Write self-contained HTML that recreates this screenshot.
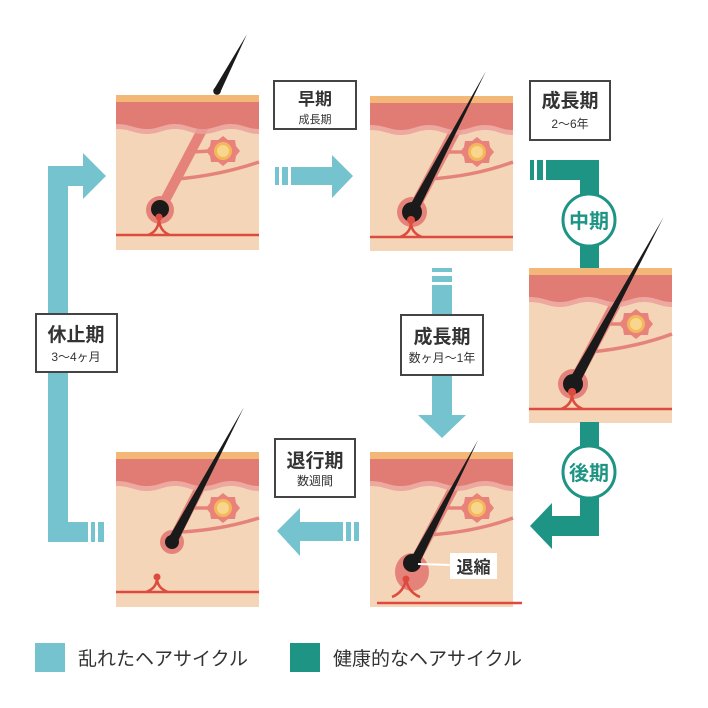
<!DOCTYPE html>
<html><head><meta charset="utf-8"><style>
html,body{margin:0;padding:0;background:#fff;width:708px;height:708px;overflow:hidden}
svg text{font-family:"Liberation Sans","Noto Sans CJK JP",sans-serif;font-weight:bold}
svg text.n{font-weight:normal}
</style></head><body>
<svg width="708" height="708" viewBox="0 0 708 708" xmlns="http://www.w3.org/2000/svg">
<defs>
<g id="bg">
  <rect x="0" y="0" width="143" height="155" fill="#F5D5B8"/>
</g>
<g id="band">
  <path d="M0 7 H143 V39 C131 39 127 34 115 34 C103 34 99 39 87 39 C75 39 71 34 59 34 C47 34 43 39 31 39 C19 39 15 34 0 34 Z" fill="#EBA09A" fill-opacity="0.85"/>
  <path d="M0 7 H143 V34 C131 34 127 29 115 29 C103 29 99 34 87 34 C75 34 71 29 59 29 C47 29 43 34 31 34 C19 34 15 29 0 29 Z" fill="#E07C73"/>
  <rect x="0" y="0" width="143" height="7" fill="#F3B777"/>
</g>
<g id="gland">
  <polygon points="107,41 112,45 119,45 120,51 124,56 120,61 119,67 112,67 107,71 102,67 95,67 94,61 90,56 94,51 95,45 102,45" fill="#E8827A"/>
  <circle cx="107" cy="56" r="9" fill="#F4B85A"/>
  <circle cx="107" cy="56" r="6" fill="#F8D68E"/>
</g>
</defs>

<!-- Panel 1 -->
<g transform="translate(116,95)">
  <use href="#bg"/>
  <path d="M62 84 Q105 80 143 67" stroke="#E5837A" stroke-width="3.5" fill="none"/>
  <path d="M76 57 L95 56" stroke="#E5837A" stroke-width="3.5"/>
  <line x1="44" y1="115" x2="94" y2="20" stroke="#E5837A" stroke-width="10"/>
  <circle cx="44" cy="115" r="14" fill="#E5837A"/>
  <circle cx="44" cy="114" r="9" fill="#1a1a1a"/>
  <line x1="0" y1="140" x2="143" y2="140" stroke="#DD4B3E" stroke-width="2.5"/>
  <path d="M32 140 Q43 136 43 123 Q43 136 54 140" stroke="#DD4B3E" stroke-width="2.5" fill="none"/>
  <circle cx="43" cy="122" r="3.5" fill="#DD4B3E"/>
  <use href="#band"/>
  <use href="#gland"/>
</g>
<g transform="translate(217,91) rotate(-62.2)"><polygon points="0,-3.5 64,0 0,3.5" fill="#1a1a1a"/><circle cx="0" cy="0" r="3.8" fill="#1a1a1a"/></g>

<!-- Panel 2 -->
<g transform="translate(370,96)">
  <use href="#bg"/>
  <path d="M60 83 Q105 80 143 66" stroke="#E5837A" stroke-width="3.5" fill="none"/>
  <path d="M74 56 L95 56" stroke="#E5837A" stroke-width="3.5"/>
  <line x1="42" y1="116" x2="93" y2="20" stroke="#E5837A" stroke-width="11"/>
  <circle cx="42" cy="116" r="15" fill="#E5837A"/>
  <line x1="0" y1="141" x2="143" y2="141" stroke="#DD4B3E" stroke-width="2.5"/>
  <use href="#band"/>
  <use href="#gland"/>
  <g transform="translate(42,116) rotate(-62.3)"><polygon points="0,-5 159,0 0,5" fill="#1a1a1a"/></g>
  <circle cx="42" cy="116" r="10" fill="#1a1a1a"/>
  <path d="M30 141 Q41 137 41 126 Q41 137 52 141" stroke="#DD4B3E" stroke-width="2.5" fill="none"/>
  <circle cx="41" cy="124" r="4" fill="#DD4B3E"/>
</g>

<!-- Panel 3 -->
<g transform="translate(529,268)">
  <use href="#bg"/>
  <path d="M61 84 Q105 80 143 66" stroke="#E5837A" stroke-width="3.5" fill="none"/>
  <path d="M76 56 L95 56" stroke="#E5837A" stroke-width="3.5"/>
  <line x1="44" y1="116" x2="95" y2="20" stroke="#E5837A" stroke-width="11"/>
  <circle cx="44" cy="116" r="15" fill="#E5837A"/>
  <line x1="0" y1="141" x2="143" y2="141" stroke="#DD4B3E" stroke-width="2.5"/>
  <use href="#band"/>
  <use href="#gland"/>
  <g transform="translate(44,116) rotate(-61.5)"><polygon points="0,-5.5 190,0 0,5.5" fill="#1a1a1a"/></g>
  <circle cx="44" cy="116" r="10" fill="#1a1a1a"/>
  <path d="M32 141 Q43 137 43 126 Q43 137 54 141" stroke="#DD4B3E" stroke-width="2.5" fill="none"/>
  <circle cx="43" cy="124" r="4" fill="#DD4B3E"/>
</g>

<!-- Panel 4 -->
<g transform="translate(370,452)">
  <use href="#bg"/>
  <path d="M58 83 Q105 80 143 66" stroke="#E5837A" stroke-width="3.5" fill="none"/>
  <path d="M74 56 L95 56" stroke="#E5837A" stroke-width="3.5"/>
  <line x1="44" y1="111" x2="92" y2="20" stroke="#E5837A" stroke-width="10"/>
  <ellipse cx="42" cy="120" rx="17" ry="19" fill="#E5837A"/>
  <use href="#band"/>
  <use href="#gland"/>
  <g transform="translate(44,111) rotate(-62.5)"><polygon points="0,-5 139,0 0,5" fill="#1a1a1a"/></g>
  <circle cx="42" cy="111" r="9" fill="#1a1a1a"/>
  <path d="M22 145 Q34 140 36 127 Q38 140 50 145" stroke="#DD4B3E" stroke-width="2.5" fill="none"/>
  <circle cx="36" cy="127" r="3.5" fill="#DD4B3E"/>
  <line x1="7" y1="151" x2="152" y2="151" stroke="#DD4B3E" stroke-width="2.5"/>
  <line x1="48" y1="112" x2="82" y2="113" stroke="#fff" stroke-width="2"/>
  <rect x="80" y="101" width="47" height="26" fill="#fff"/>
  <text x="103.5" y="121" font-size="17" fill="#333" text-anchor="middle">退縮</text>
</g>

<!-- Panel 5 -->
<g transform="translate(116,452)">
  <use href="#bg"/>
  <path d="M65 80 Q105 78 143 66" stroke="#E5837A" stroke-width="3.5" fill="none"/>
  <path d="M78 56 L95 56" stroke="#E5837A" stroke-width="3.5"/>
  <line x1="56" y1="90" x2="92" y2="20" stroke="#E5837A" stroke-width="10"/>
  <circle cx="56" cy="90" r="12" fill="#E5837A"/>
  <use href="#band"/>
  <use href="#gland"/>
  <g transform="translate(56,90) rotate(-61.9)"><polygon points="0,-5 153,0 0,5" fill="#1a1a1a"/></g>
  <circle cx="56" cy="90" r="7" fill="#1a1a1a"/>
  <line x1="0" y1="140" x2="143" y2="140" stroke="#DD4B3E" stroke-width="2.5"/>
  <path d="M30 140 Q41 136 41 126 Q41 136 52 140" stroke="#DD4B3E" stroke-width="2.5" fill="none"/>
  <circle cx="41" cy="125" r="3.5" fill="#DD4B3E"/>
</g>

<!-- Light teal (disturbed) arrows -->
<g fill="#75C3CE">
  <rect x="48" y="166" width="20" height="376"/>
  <rect x="48" y="166" width="36" height="20"/>
  <polygon points="83,153 106,176 83,199"/>
  <rect x="48" y="522" width="40" height="20"/>
  <rect x="91" y="522" width="4" height="20"/>
  <rect x="98" y="522" width="6" height="20"/>
  <rect x="275" y="167" width="4" height="18"/>
  <rect x="282" y="167" width="6" height="18"/>
  <rect x="291" y="167" width="42" height="18"/>
  <polygon points="332,155 353,176 332,198"/>
  <rect x="432" y="268" width="20" height="4"/>
  <rect x="432" y="276" width="20" height="6"/>
  <rect x="432" y="285" width="20" height="132"/>
  <polygon points="418,415 466,415 442,438"/>
  <polygon points="277,531 300,508 300,556"/>
  <rect x="299" y="522" width="44" height="19"/>
  <rect x="346" y="522" width="5" height="19"/>
  <rect x="354" y="522" width="5" height="19"/>
</g>

<!-- Dark teal (healthy) arrows -->
<g fill="#1E9484">
  <rect x="530" y="160" width="4" height="20"/>
  <rect x="537" y="160" width="6" height="20"/>
  <rect x="546" y="160" width="53" height="20"/>
  <rect x="580" y="160" width="19" height="108"/>
  <rect x="580" y="422" width="19" height="114"/>
  <rect x="551" y="516" width="48" height="20"/>
  <polygon points="530,526 552,503 552,549"/>
</g>
<circle cx="589" cy="220" r="26" fill="#fff" stroke="#1E9484" stroke-width="3"/>
<text x="589" y="228" font-size="20" fill="#1E9484" text-anchor="middle">中期</text>
<circle cx="589" cy="472" r="26" fill="#fff" stroke="#1E9484" stroke-width="3"/>
<text x="589" y="480" font-size="20" fill="#1E9484" text-anchor="middle">後期</text>

<!-- Label boxes -->
<g fill="#fff" stroke="#444" stroke-width="2">
  <rect x="274" y="81" width="82" height="48"/>
  <rect x="530" y="81" width="80" height="59"/>
  <rect x="401" y="315" width="82" height="60"/>
  <rect x="275" y="439" width="80" height="58"/>
  <rect x="36" y="314" width="81" height="58"/>
</g>
<g fill="#333" text-anchor="middle">
  <text x="315" y="105" font-size="17">早期</text>
  <text x="315" y="123" font-size="11" class="n">成長期</text>
  <text x="570" y="107" font-size="19">成長期</text>
  <text x="570" y="128" font-size="12" class="n">2〜6年</text>
  <text x="442" y="343" font-size="19">成長期</text>
  <text x="442" y="362" font-size="12" class="n">数ヶ月〜1年</text>
  <text x="315" y="467" font-size="19">退行期</text>
  <text x="315" y="485" font-size="12" class="n">数週間</text>
  <text x="76" y="341" font-size="19">休止期</text>
  <text x="76" y="361" font-size="12" class="n">3〜4ヶ月</text>
</g>

<!-- Legend -->
<rect x="35" y="643" width="30" height="29" fill="#75C3CE"/>
<text x="78" y="665" font-size="19" fill="#333" class="n">乱れたヘアサイクル</text>
<rect x="290" y="643" width="30" height="29" fill="#1E9484"/>
<text x="333" y="665" font-size="19" fill="#333" class="n">健康的なヘアサイクル</text>
</svg>
</body></html>
